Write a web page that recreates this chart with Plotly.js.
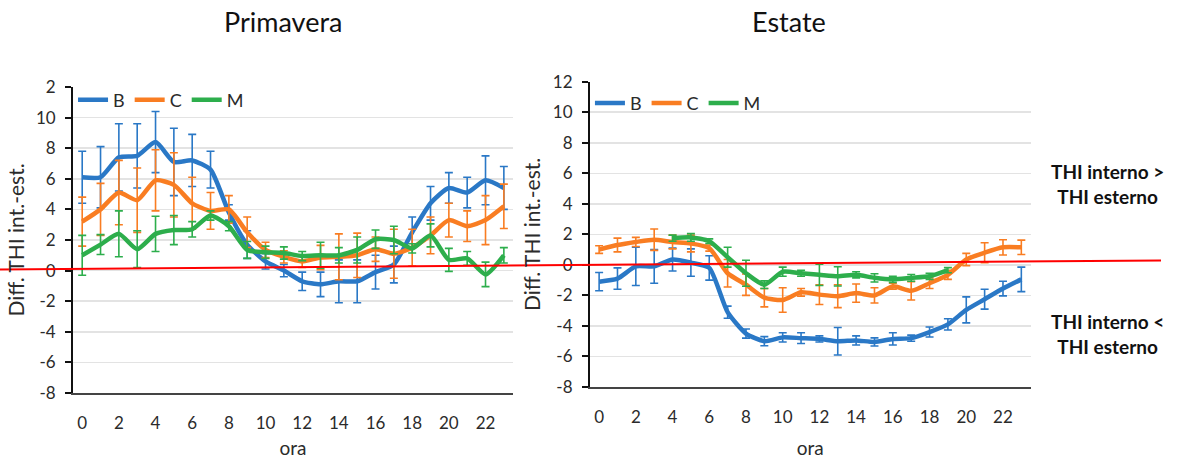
<!DOCTYPE html>
<html>
<head>
<meta charset="utf-8">
<script src="https://cdn.plot.ly/plotly-3.0.1.min.js"></script>
<style>html,body{margin:0;padding:0;background:#fff;}#chart{width:1178px;height:459px;}</style>
</head>
<body>
<div id="chart"></div>
<script>
// ---------- data ----------
const hours = [0,1,2,3,4,5,6,7,8,9,10,11,12,13,14,15,16,17,18,19,20,21,22,23];
const xTickVals = [0,2,4,6,8,10,12,14,16,18,20,22];
const yTickVals = [-8,-6,-4,-2,0,2,4,6,8,10,12];
const yTickTextLeft = ['-8','-6','-4','-2','0','2','4','6','8','10','2'];
const yTickTextRight = ['-8','-6','-4','-2','0','2','4','6','8','10','12'];
const seriesNames = ['B','C','M'];

// Primavera (spring)
const B_spr = [6.1,6.1,7.4,7.5,8.4,7.1,7.2,6.6,3.8,1.7,0.6,0.0,-0.7,-0.9,-0.7,-0.7,-0.1,0.4,2.5,4.4,5.4,5.1,5.9,5.4];
const B_spr_err = [1.7,2.0,2.2,2.1,2.0,2.2,1.7,1.2,0.5,0.9,0.5,0.4,0.6,0.8,1.4,1.4,1.1,1.2,1.0,1.1,1.0,1.0,1.6,1.4];
const C_spr = [3.2,4.0,5.1,4.6,5.9,5.6,4.4,3.9,4.0,2.5,1.35,0.9,0.6,0.85,0.9,1.0,1.4,1.1,1.5,2.3,3.3,2.9,3.3,4.2];
const C_spr_err = [1.6,1.7,2.1,2.1,2.0,2.1,1.7,1.2,0.9,1.0,0.5,0.4,0.4,0.8,1.5,1.45,0.8,1.6,1.2,1.2,1.1,1.0,1.6,1.45];
const M_spr = [1.0,1.7,2.4,1.4,2.4,2.65,2.7,3.6,2.9,1.35,1.2,1.15,0.95,1.0,1.0,1.35,2.05,2.0,1.45,2.3,0.7,0.8,-0.25,1.0];
const M_spr_err = [1.3,0.65,1.5,1.2,1.15,0.95,0.5,0.3,0.3,0.55,0.4,0.4,0.3,0.85,0.5,0.85,0.6,0.9,0.3,0.75,0.75,0.45,0.8,0.5];

// Estate (summer)
const B_sum = [-1.1,-0.9,-0.1,-0.1,0.35,0.15,-0.2,-3.1,-4.5,-5.0,-4.75,-4.8,-4.85,-5.0,-4.95,-5.05,-4.85,-4.8,-4.4,-3.9,-2.95,-2.25,-1.55,-0.95];
const B_sum_err = [0.6,0.7,1.25,1.1,0.75,0.9,0.8,0.4,0.3,0.3,0.3,0.35,0.2,0.9,0.3,0.27,0.4,0.2,0.33,0.37,0.85,0.65,0.48,0.8];
const C_sum = [1.0,1.3,1.5,1.65,1.5,1.4,1.1,-0.55,-1.3,-2.15,-2.3,-1.8,-1.95,-2.05,-1.85,-2.0,-1.4,-1.7,-1.2,-0.65,0.35,0.8,1.15,1.15];
const C_sum_err = [0.25,0.45,0.3,0.7,0.45,0.55,0.2,0.9,0.7,0.6,0.8,0.25,0.65,0.75,0.6,0.5,0.2,0.6,0.35,0.3,0.4,0.65,0.5,0.47];
const M_sum = [null,null,null,null,1.75,1.8,1.55,0.5,-0.55,-1.3,-0.45,-0.55,-0.65,-0.75,-0.65,-0.85,-0.95,-0.85,-0.75,-0.35,null,null,null,null];
const M_sum_err = [null,null,null,null,0.2,0.25,0.15,0.65,0.85,0.25,0.3,0.2,0.7,0.63,0.2,0.27,0.2,0.22,0.2,0.17,null,null,null,null];

const colors = ['#2A78C6', '#F97D22', '#2DAE4C'];
const FONT = 'Lato, "Open Sans", "Liberation Sans", sans-serif';
const TXT = '#2b2b2b';

function tr(y, err, i, xa, ya, leg) {
  return {
    x: hours, y: y, type: 'scatter', mode: 'lines', name: seriesNames[i],
    xaxis: xa, yaxis: ya, legend: leg, connectgaps: false,
    line: {color: colors[i], width: 4.5, shape: 'spline', smoothing: 0.6},
    error_y: {type: 'data', array: err, visible: true, color: colors[i], thickness: 1.6, width: 4}
  };
}

const data = [
  tr(B_spr, B_spr_err, 0, 'x', 'y', 'legend'),
  tr(C_spr, C_spr_err, 1, 'x', 'y', 'legend'),
  tr(M_spr, M_spr_err, 2, 'x', 'y', 'legend'),
  tr(B_sum, B_sum_err, 0, 'x2', 'y2', 'legend2'),
  tr(C_sum, C_sum_err, 1, 'x2', 'y2', 'legend2'),
  tr(M_sum, M_sum_err, 2, 'x2', 'y2', 'legend2')
];

function xax(domain, anchor) {
  return {
    domain: domain, anchor: anchor, range: [-0.5, 23.5],
    tickvals: xTickVals, showgrid: false, zeroline: false,
    showline: true, linecolor: '#444', linewidth: 2,
    ticks: '', ticklabelstandoff: 14,
    tickfont: {family: FONT, size: 17, color: TXT},
    title: {text: 'ora', font: {family: FONT, size: 19, color: TXT}, standoff: 16}
  };
}
function yax(domain, anchor, ttext) {
  return {
    domain: domain, anchor: anchor, range: [-8, 12],
    tickvals: yTickVals, ticktext: ttext,
    showgrid: true, gridcolor: '#E3E3E3', gridwidth: 1.5, zeroline: false,
    showline: true, linecolor: '#111', linewidth: 2,
    ticks: 'outside', ticklen: 6, tickwidth: 2, tickcolor: '#111',
    ticklabelstandoff: 6,
    tickfont: {family: FONT, size: 17, color: TXT},
    title: {text: 'Diff. THI int.-est.', font: {family: FONT, size: 21, color: TXT}, standoff: 6}
  };
}

const legendBase = {
  orientation: 'h', xanchor: 'left', yanchor: 'middle',
  font: {family: FONT, size: 18, color: TXT}, bgcolor: 'rgba(0,0,0,0)',
  itemwidth: 30, tracegroupgap: 0
};

const layout = {
  width: 1178, height: 459,
  margin: {l: 0, r: 0, t: 0, b: 0},
  paper_bgcolor: '#fff', plot_bgcolor: '#fff',
  showlegend: true,
  xaxis: xax([0.062, 0.4355], 'y'),
  yaxis: yax([0.1438, 0.8105], 'x', yTickTextLeft),
  xaxis2: xax([0.5008, 0.8748], 'y2'),
  yaxis2: yax([0.1569, 0.822], 'x2', yTickTextRight),
  legend: Object.assign({}, legendBase, {x: 0.062, y: 0.782}),
  legend2: Object.assign({}, legendBase, {x: 0.5008, y: 0.775}),
  annotations: [
    {text: 'Primavera', xref: 'paper', yref: 'paper', x: 283/1178, y: 1 - 22/459, showarrow: false,
     font: {family: FONT, size: 27, color: '#111'}, xanchor: 'center', yanchor: 'middle'},
    {text: 'Estate', xref: 'paper', yref: 'paper', x: 789/1178, y: 1 - 22/459, showarrow: false,
     font: {family: FONT, size: 27, color: '#111'}, xanchor: 'center', yanchor: 'middle'},
    {text: '<b>THI interno ></b><br><b>THI esterno</b>', xref: 'paper', yref: 'paper',
     x: 1107/1178, y: 1 - 184/459, showarrow: false, align: 'center',
     font: {family: FONT, size: 19, color: '#111'}, xanchor: 'center', yanchor: 'middle'},
    {text: '<b>THI interno <</b><br><b>THI esterno</b>', xref: 'paper', yref: 'paper',
     x: 1107/1178, y: 1 - 334/459, showarrow: false, align: 'center',
     font: {family: FONT, size: 19, color: '#111'}, xanchor: 'center', yanchor: 'middle'}
  ],
  shapes: [
    {type: 'line', xref: 'paper', yref: 'paper', x0: 0, y0: 1 - 269.5/459, x1: 1161/1178, y1: 1 - 260.5/459,
     line: {color: '#FF0000', width: 2}, layer: 'above'}
  ]
};

Plotly.newPlot('chart', data, layout, {staticPlot: true, displayModeBar: false});
</script>
</body>
</html>
